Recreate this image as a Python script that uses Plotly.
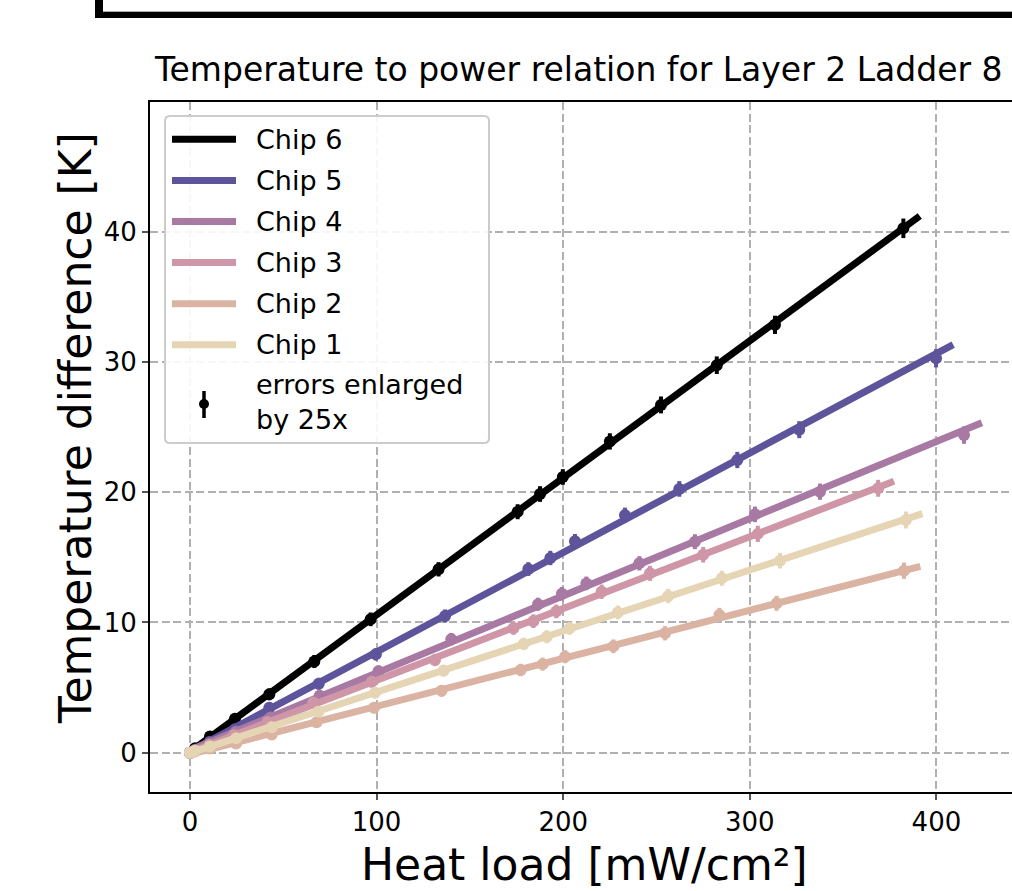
import numpy as np
import plotly.graph_objects as go

# ---------------- data ----------------
chips = ["Chip 6", "Chip 5", "Chip 4", "Chip 3", "Chip 2", "Chip 1"]
colors = ["#000000", "#5e549b", "#a779a3", "#ce96a6", "#dbb3a3", "#e6d5b4"]

heat_chip6 = [0, 2.7, 10.7, 24.1, 42.5, 66.6, 96.8, 133.2, 175.6, 187.6, 199.8, 225.0, 252.4, 282.3, 313.5, 382.3]
dT_chip6 = [0, 0.35, 1.25, 2.6, 4.48, 7.0, 10.24, 14.08, 18.5, 19.86, 21.17, 23.9, 26.7, 29.75, 32.85, 40.26]
err_chip6 = [0.010, 0.014, 0.016, 0.017, 0.018, 0.020, 0.021, 0.022, 0.023, 0.024, 0.024, 0.025, 0.026, 0.027, 0.028, 0.030]

heat_chip5 = [0, 2.8, 10.7, 24.1, 42.5, 69.0, 99.6, 136.7, 181.3, 193.1, 206.3, 233.1, 262.2, 293.3, 326.5, 399.8]
dT_chip5 = [0, 0.22, 0.85, 1.8, 3.45, 5.3, 7.55, 10.5, 14.1, 14.95, 16.24, 18.24, 20.25, 22.47, 24.8, 30.28]
err_chip5 = [0.010, 0.013, 0.015, 0.016, 0.017, 0.018, 0.019, 0.020, 0.021, 0.022, 0.022, 0.023, 0.024, 0.025, 0.026, 0.028]

heat_chip4 = [0, 2.8, 10.7, 24.7, 43.2, 69.5, 101.0, 140.0, 186.5, 199.3, 212.4, 240.8, 270.6, 302.8, 337.6, 414.8]
dT_chip4 = [0, 0.18, 0.7, 1.6, 2.7, 4.38, 6.25, 8.72, 11.4, 12.2, 13.0, 14.54, 16.2, 18.3, 20.04, 24.39]
err_chip4 = [0.010, 0.013, 0.014, 0.015, 0.016, 0.017, 0.018, 0.019, 0.020, 0.021, 0.021, 0.022, 0.023, 0.024, 0.025, 0.027]

heat_chip3 = [0, 2.7, 10.4, 23.5, 41.5, 66.1, 97.4, 131.3, 173.3, 184.0, 196.3, 220.6, 246.5, 275.0, 304.3, 368.8]
dT_chip3 = [0, 0.15, 0.6, 1.35, 2.35, 3.85, 5.45, 7.12, 9.55, 10.1, 10.85, 12.36, 13.77, 15.2, 16.8, 20.3]
err_chip3 = [0.010, 0.013, 0.014, 0.015, 0.016, 0.017, 0.018, 0.019, 0.020, 0.021, 0.021, 0.022, 0.023, 0.024, 0.025, 0.026]

heat_chip2 = [0, 2.7, 10.7, 24.7, 43.8, 67.8, 98.6, 134.8, 177.2, 189.0, 201.0, 226.9, 254.6, 283.7, 314.4, 382.6]
dT_chip2 = [0, 0.1, 0.32, 0.7, 1.4, 2.33, 3.45, 4.75, 6.35, 6.8, 7.37, 8.17, 9.17, 10.57, 11.47, 13.97]
err_chip2 = [0.010, 0.012, 0.013, 0.014, 0.015, 0.016, 0.017, 0.018, 0.019, 0.020, 0.020, 0.021, 0.022, 0.022, 0.023, 0.025]

heat_chip1 = [0, 2.7, 10.7, 24.7, 43.8, 68.8, 99.1, 135.9, 178.8, 191.2, 203.4, 229.3, 256.3, 285.0, 316.2, 383.7]
dT_chip1 = [0, 0.15, 0.48, 1.1, 1.95, 3.15, 4.6, 6.3, 8.35, 8.9, 9.55, 10.77, 12.03, 13.39, 14.74, 17.87]
err_chip1 = [0.010, 0.012, 0.013, 0.014, 0.015, 0.016, 0.017, 0.018, 0.019, 0.020, 0.020, 0.021, 0.022, 0.023, 0.024, 0.026]

heat_values = [heat_chip6, heat_chip5, heat_chip4, heat_chip3, heat_chip2, heat_chip1]
dT_values = [dT_chip6, dT_chip5, dT_chip4, dT_chip3, dT_chip2, dT_chip1]
err_values = [err_chip6, err_chip5, err_chip4, err_chip3, err_chip2, err_chip1]
error_scale = 25

x_ticks = [0, 100, 200, 300, 400]
y_ticks = [0, 10, 20, 30, 40]

title_text = "Temperature to power relation for Layer 2 Ladder 8"
x_title = "Heat load [mW/cm²]"
y_title = "Temperature difference [K]"
errors_label = "errors enlarged<br>by 25x"

# ---------------- layout geometry (pixels) ----------------
W, H = 1012, 891
PL, PR, PT, PB = 150, 1012, 102, 792  # plot area edges
FONT = "DejaVu Sans"


def px(x):
    return (x - PL) / (PR - PL)


def py(y):
    return (PB - y) / (PB - PT)


fig = go.Figure()

for name, col, hx, dy, er in zip(chips, colors, heat_values, dT_values, err_values):
    hx = np.array(hx, dtype=float)
    dy = np.array(dy, dtype=float)
    slope, icpt = np.polyfit(hx, dy, 1)
    xf = np.linspace(0, hx.max() * 1.023, 50)
    fig.add_trace(go.Scatter(x=xf, y=slope * xf + icpt, mode="lines",
                             line=dict(color=col, width=7), showlegend=False,
                             name=name, hoverinfo="skip"))
    fig.add_trace(go.Scatter(x=hx, y=dy, mode="markers", name=name, showlegend=False,
                             marker=dict(color=col, size=12, line=dict(width=0)),
                             error_y=dict(type="data", array=np.array(er) * error_scale,
                                          color=col, thickness=4, width=0)))

shapes = []
annotations = []

# decorative frame fragment at top
shapes.append(dict(type="rect", xref="paper", yref="paper", x0=px(95), x1=px(1030),
                   y0=py(18), y1=py(-20), fillcolor="black", line=dict(width=0), layer="above"))
shapes.append(dict(type="rect", xref="paper", yref="paper", x0=px(103), x1=px(1040),
                   y0=py(12), y1=py(-30), fillcolor="white", line=dict(width=0), layer="above"))
shapes.append(dict(type="line", xref="paper", yref="paper", x0=px(103), x1=px(1040),
                   y0=py(11.5), y1=py(11.5), line=dict(color="#aaaaaa", width=1), layer="above"))

# legend box (rounded)
lx0, lx1, ly0, ly1, r = 165, 489, 116, 443, 5
rx, ry = r / (PR - PL), r / (PB - PT)
X0, X1, Y0, Y1 = px(lx0), px(lx1), py(ly1), py(ly0)
path = (f"M{X0 + rx},{Y1} L{X1 - rx},{Y1} Q{X1},{Y1} {X1},{Y1 - ry} "
        f"L{X1},{Y0 + ry} Q{X1},{Y0} {X1 - rx},{Y0} L{X0 + rx},{Y0} "
        f"Q{X0},{Y0} {X0},{Y0 + ry} L{X0},{Y1 - ry} Q{X0},{Y1} {X0 + rx},{Y1} Z")
shapes.append(dict(type="path", xref="paper", yref="paper", path=path,
                   fillcolor="rgba(255,255,255,0.9)", line=dict(color="#cccccc", width=2),
                   layer="above"))

row_y = [139.3, 180.4, 221.5, 262.6, 303.7, 344.8]
for name, col, yy in zip(chips, colors, row_y):
    shapes.append(dict(type="line", xref="paper", yref="paper", x0=px(172), x1=px(236),
                       y0=py(yy), y1=py(yy), line=dict(color=col, width=7), layer="above"))
    annotations.append(dict(text=name, xref="paper", yref="paper", x=px(254), y=py(yy),
                            xanchor="left", yanchor="middle", showarrow=False,
                            font=dict(family=FONT, size=27, color="black")))
# error-bar legend handle
shapes.append(dict(type="line", xref="paper", yref="paper", x0=px(204), x1=px(204),
                   y0=py(391), y1=py(418), line=dict(color="black", width=3.5), layer="above"))
shapes.append(dict(type="circle", xref="paper", yref="paper", x0=px(199), x1=px(209),
                   y0=py(409), y1=py(399), fillcolor="black", line=dict(width=0), layer="above"))
annotations.append(dict(text=errors_label, xref="paper", yref="paper", x=px(254), y=py(402),
                        xanchor="left", yanchor="middle", showarrow=False, align="left",
                        font=dict(family=FONT, size=27, color="black")))

# title and axis titles
annotations.append(dict(text=title_text, xref="paper", yref="paper", x=px(152), y=py(70),
                        xanchor="left", yanchor="middle", showarrow=False,
                        font=dict(family=FONT, size=33, color="black")))
annotations.append(dict(text=x_title, xref="paper", yref="paper", x=px(584), y=py(864),
                        xanchor="center", yanchor="middle", showarrow=False,
                        font=dict(family=FONT, size=44, color="black")))
annotations.append(dict(text=y_title, xref="paper", yref="paper", x=px(75), y=py(428),
                        xanchor="center", yanchor="middle", showarrow=False, textangle=-90,
                        font=dict(family=FONT, size=44, color="black")))

x_lo = (PL - 190) / 1.866
x_hi = (PR - 190) / 1.866
y_lo = (752.7 - PB) / 13.025
y_hi = (752.7 - PT) / 13.025

axis_common = dict(showgrid=True, gridcolor="#b0b0b0", gridwidth=1.8, griddash="8px,3.5px",
                   zeroline=False, showline=True, linecolor="black", linewidth=2,
                   ticks="outside", ticklen=6, tickwidth=1.5, tickcolor="#555555",
                   tickfont=dict(family=FONT, size=26, color="black"))

fig.update_layout(
    width=W, height=H,
    margin=dict(l=PL, r=W - PR, t=PT, b=H - PB, pad=0),
    paper_bgcolor="white", plot_bgcolor="white",
    font=dict(family=FONT),
    showlegend=False,
    xaxis=dict(range=[x_lo, x_hi], tickvals=x_ticks, mirror=True, **axis_common),
    yaxis=dict(range=[y_lo, y_hi], tickvals=y_ticks, **axis_common),
    shapes=shapes, annotations=annotations,
)

fig.write_html("out.html", config={"displayModeBar": False},
               post_script="document.body.style.margin='0';document.body.style.overflow='hidden';")
